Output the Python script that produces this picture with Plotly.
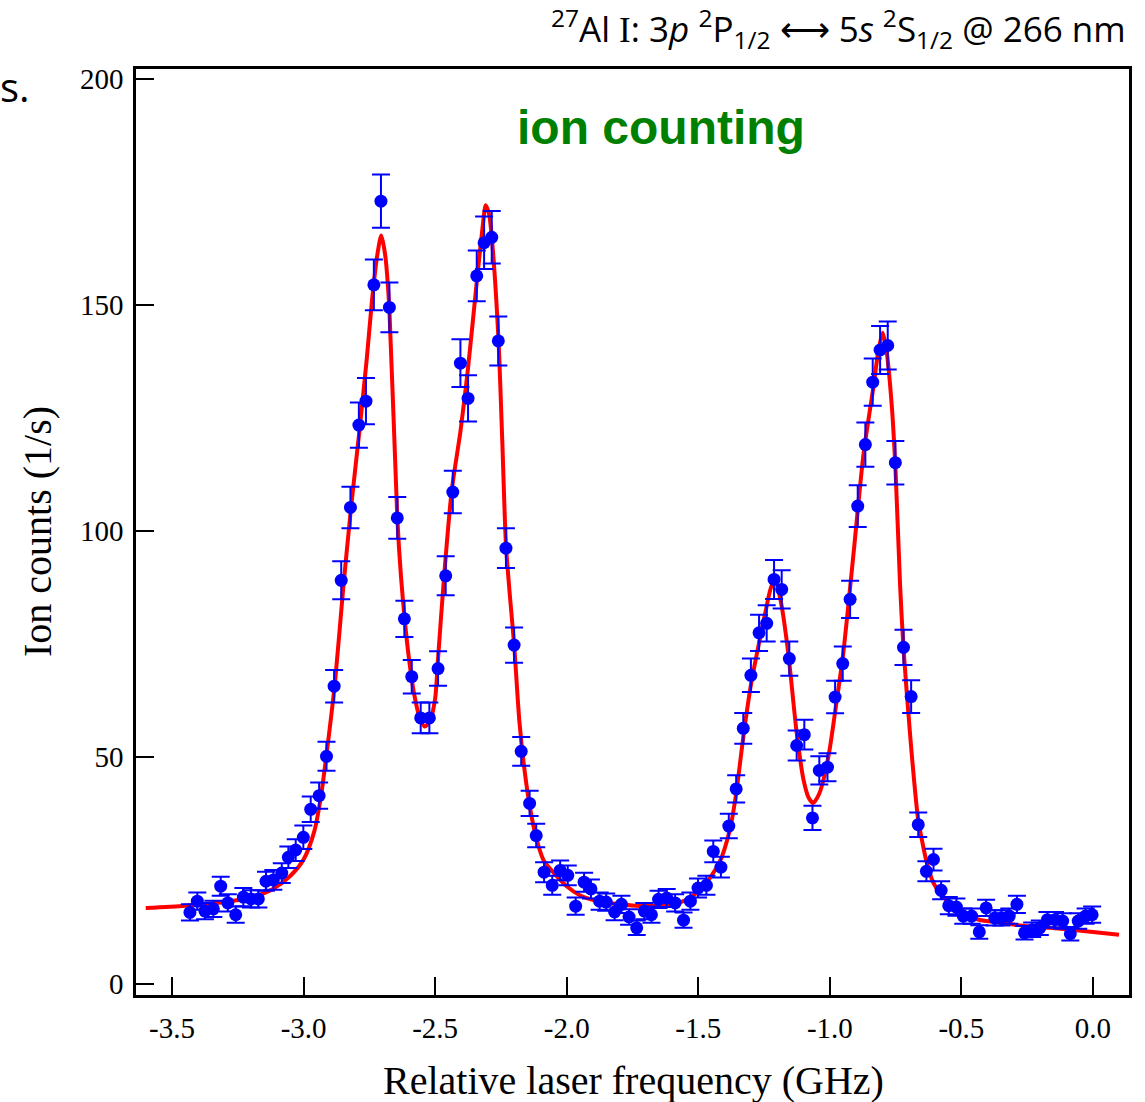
import plotly.graph_objects as go

freq_ghz = [-3.432, -3.404, -3.375, -3.343, -3.315, -3.288, -3.258, -3.229, -3.200, -3.172,
            -3.143, -3.115, -3.083, -3.058, -3.030, -3.001, -2.973, -2.941, -2.913, -2.884,
            -2.857, -2.822, -2.790, -2.763, -2.733, -2.706, -2.674, -2.644, -2.617, -2.589,
            -2.555, -2.522, -2.489, -2.460, -2.433, -2.404, -2.375, -2.342, -2.314, -2.285,
            -2.260, -2.231, -2.200, -2.173, -2.141, -2.116, -2.086, -2.055, -2.025, -1.996,
            -1.966, -1.934, -1.908, -1.875, -1.850, -1.818, -1.792, -1.763, -1.734, -1.705,
            -1.678, -1.651, -1.620, -1.588, -1.556, -1.530, -1.501, -1.469, -1.443, -1.414,
            -1.384, -1.356, -1.329, -1.300, -1.269, -1.240, -1.212, -1.183, -1.154, -1.126,
            -1.097, -1.066, -1.040, -1.009, -0.980, -0.951, -0.923, -0.894, -0.865, -0.837,
            -0.809, -0.780, -0.751, -0.720, -0.691, -0.664, -0.633, -0.606, -0.577, -0.548,
            -0.519, -0.493, -0.461, -0.432, -0.406, -0.373, -0.348, -0.318, -0.289, -0.260,
            -0.231, -0.202, -0.173, -0.144, -0.115, -0.086, -0.056, -0.028, -0.003]
ion_counts = [15.7, 18.2, 16.0, 16.5, 21.5, 17.8, 15.2, 19.1, 18.7, 18.7,
              22.6, 22.9, 24.4, 27.9, 29.5, 32.3, 38.5, 41.5, 50.2, 65.7,
              89.1, 105.2, 123.4, 128.7, 154.4, 172.9, 149.4, 102.9, 80.6, 67.8,
              58.7, 58.7, 69.6, 90.1, 108.6, 137.1, 129.3, 156.4, 163.7, 164.9,
              142.0, 96.2, 74.8, 51.3, 39.8, 32.7, 24.6, 21.7, 25.0, 23.9,
              17.1, 22.4, 20.9, 18.2, 18.0, 15.8, 17.5, 14.7, 12.3, 16.0,
              15.2, 18.6, 18.9, 17.8, 14.0, 18.2, 21.1, 21.7, 29.2, 25.7,
              34.8, 43.0, 56.4, 68.1, 77.5, 79.6, 89.3, 87.1, 71.8, 52.6,
              55.0, 36.6, 47.1, 47.8, 63.3, 70.7, 84.9, 105.5, 119.1, 132.9,
              140.0, 141.0, 115.1, 74.3, 63.4, 35.1, 24.8, 27.4, 20.6, 17.2,
              16.9, 14.9, 14.9, 11.4, 16.7, 14.5, 14.5, 14.9, 17.5, 11.2,
              11.9, 12.3, 14.1, 14.1, 13.8, 11.0, 13.8, 14.9, 15.2]
count_err = [1.8, 1.9, 1.8, 1.8, 2.1, 1.9, 1.8, 2.0, 1.9, 1.9,
             2.1, 2.2, 2.2, 2.4, 2.4, 2.6, 2.8, 2.9, 3.2, 3.6,
             4.2, 4.6, 5.0, 5.1, 5.6, 5.9, 5.5, 4.6, 4.0, 3.7,
             3.4, 3.4, 3.8, 4.3, 4.7, 5.3, 5.1, 5.6, 5.8, 5.8,
             5.4, 4.4, 3.9, 3.2, 2.8, 2.6, 2.2, 2.1, 2.2, 2.2,
             1.9, 2.1, 2.1, 1.9, 1.9, 1.8, 1.9, 1.7, 1.6, 1.8,
             1.8, 1.9, 2.0, 1.9, 1.7, 1.9, 2.1, 2.1, 2.4, 2.3,
             2.7, 3.0, 3.4, 3.7, 4.0, 4.0, 4.3, 4.2, 3.8, 3.3,
             3.3, 2.7, 3.1, 3.1, 3.6, 3.8, 4.1, 4.6, 4.9, 5.2,
             5.3, 5.3, 4.8, 3.9, 3.6, 2.7, 2.2, 2.4, 2.0, 1.9,
             1.9, 1.7, 1.7, 1.5, 1.8, 1.7, 1.7, 1.7, 1.9, 1.5,
             1.6, 1.6, 1.7, 1.7, 1.7, 1.5, 1.7, 1.7, 1.8]

# ---- fitted curve ----
fit_x = [-3.60, -3.45, -3.30, -3.20, -3.12, -3.05, -3.00, -2.96, -2.935, -2.91,
         -2.88, -2.85, -2.82, -2.79, -2.76, -2.74, -2.72, -2.705, -2.69, -2.674,
         -2.644, -2.63, -2.615, -2.60, -2.58, -2.56, -2.54, -2.52, -2.50, -2.49,
         -2.466, -2.437, -2.404, -2.375, -2.342, -2.32, -2.308, -2.295, -2.285, -2.26,
         -2.245, -2.231, -2.215, -2.20, -2.18, -2.16, -2.14, -2.115, -2.086, -2.05,
         -2.00, -1.95, -1.89, -1.80, -1.74, -1.66, -1.60, -1.54, -1.48, -1.42,
         -1.38, -1.356, -1.33, -1.30, -1.27, -1.245, -1.22, -1.205, -1.185, -1.158,
         -1.126, -1.10, -1.08, -1.063, -1.04, -1.02, -1.00, -0.98, -0.949, -0.91,
         -0.872, -0.834, -0.815, -0.799, -0.785, -0.765, -0.75, -0.733, -0.72, -0.695,
         -0.68, -0.664, -0.651, -0.633, -0.607, -0.577, -0.505, -0.433, -0.353, -0.286,
         -0.163, 0.0, 0.099]
fit_y = [16.7, 17.2, 18.0, 19.0, 20.8, 23.8, 27.4, 33.5, 41.0, 52.0,
         67.0, 87.0, 105.0, 121.0, 138.0, 151.0, 161.0, 165.3, 161.0, 149.0,
         103.0, 90.0, 80.0, 72.0, 64.0, 59.0, 56.8, 58.0, 63.0, 71.0,
         90.0, 109.0, 122.0, 136.0, 155.0, 167.0, 172.0, 170.0, 165.0, 143.0,
         120.0, 97.0, 85.0, 75.0, 58.0, 47.0, 39.0, 32.0, 27.0, 24.5,
         21.5, 19.5, 18.3, 17.5, 17.2, 17.2, 17.5, 18.6, 21.5, 26.7,
         34.0, 42.0, 54.0, 66.0, 75.0, 82.0, 88.0, 88.5, 84.0, 73.0,
         55.4, 45.0, 41.0, 39.9, 42.0, 46.0, 52.0, 60.0, 73.0, 95.0,
         117.0, 132.0, 140.0, 143.8, 140.0, 128.0, 113.0, 88.0, 74.0, 55.0,
         45.0, 36.0, 32.0, 27.0, 22.3, 19.7, 15.8, 14.1, 13.5, 12.9,
         12.3, 11.4, 10.8]

x_tick_vals = [-3.5, -3.0, -2.5, -2.0, -1.5, -1.0, -0.5, 0.0]
x_tick_text = ["-3.5", "-3.0", "-2.5", "-2.0", "-1.5", "-1.0", "-0.5", "0.0"]
y_tick_vals = [0, 50, 100, 150, 200]
y_tick_text = ["0", "50", "100", "150", "200"]

# ---- layout geometry (pixels) ----
W, H = 1145, 1102
L, R, T, B = 136, 1129, 69, 995


def px(xp):
    return (xp - L) / (R - L)


def py(yp):
    return (B - yp) / (B - T)


SERIF = "Liberation Serif, Times New Roman, serif"
SANS = "Open Sans, Lato, sans-serif"

fig = go.Figure()
fig.add_trace(go.Scatter(
    x=fit_x, y=fit_y, mode="lines",
    line=dict(color="rgb(255,0,0)", width=4, shape="spline", smoothing=0.7),
    showlegend=False, hoverinfo="skip"))
fig.add_trace(go.Scatter(
    x=freq_ghz, y=ion_counts, mode="markers",
    marker=dict(color="rgb(0,0,255)", size=13),
    error_y=dict(type="data", array=count_err, color="rgb(0,0,255)", thickness=2, width=9),
    showlegend=False))

axis_common = dict(
    showgrid=False, zeroline=False, showline=True, linecolor="black", linewidth=2.5,
    mirror=True, ticks="inside", ticklen=18, tickwidth=2, tickcolor="black",
    tickfont=dict(family=SERIF, size=29, color="black"),
)
fig.update_xaxes(range=[-3.637, 0.137], tickmode="array", tickvals=x_tick_vals,
                 ticktext=x_tick_text, ticklabelstandoff=5, **axis_common)
fig.update_yaxes(range=[-2.54, 202.1], tickmode="array", tickvals=y_tick_vals,
                 ticktext=y_tick_text, ticklabelstandoff=4, **axis_common)

title_txt = ("<sup>27</sup>Al <span style='font-family:Liberation Serif'>I</span>: 3<i>p</i> "
             "<sup>2</sup>P<sub>1/2</sub> \u27f7 5<i>s</i> <sup>2</sup>S<sub>1/2</sub> @ 266 nm")

annotations = [
    dict(text=title_txt, x=px(1128), y=py(29), xanchor="right", yanchor="middle",
         font=dict(family=SANS, size=35, color="black")),
    dict(text="s.", x=px(-2), y=py(86), xanchor="left", yanchor="middle",
         font=dict(family=SANS, size=40, color="black")),
    dict(text="<b>ion counting</b>", x=px(661), y=py(127), xanchor="center", yanchor="middle",
         font=dict(family="Liberation Sans, Arial, sans-serif", size=48, color="rgb(0,128,0)")),
    dict(text="Relative laser frequency (GHz)", x=px(633), y=py(1080), xanchor="center",
         yanchor="middle", font=dict(family=SERIF, size=40, color="black")),
    dict(text="Ion counts (1/s)", x=px(37), y=py(532), xanchor="center", yanchor="middle",
         textangle=-90, font=dict(family=SERIF, size=40, color="black")),
]
for a in annotations:
    a.update(xref="paper", yref="paper", showarrow=False)

fig.update_layout(
    width=W, height=H, autosize=False,
    margin=dict(l=L, r=W - R, t=T, b=H - B, pad=0),
    paper_bgcolor="white", plot_bgcolor="white",
    annotations=annotations, showlegend=False,
)

fig.write_html("out.html")
